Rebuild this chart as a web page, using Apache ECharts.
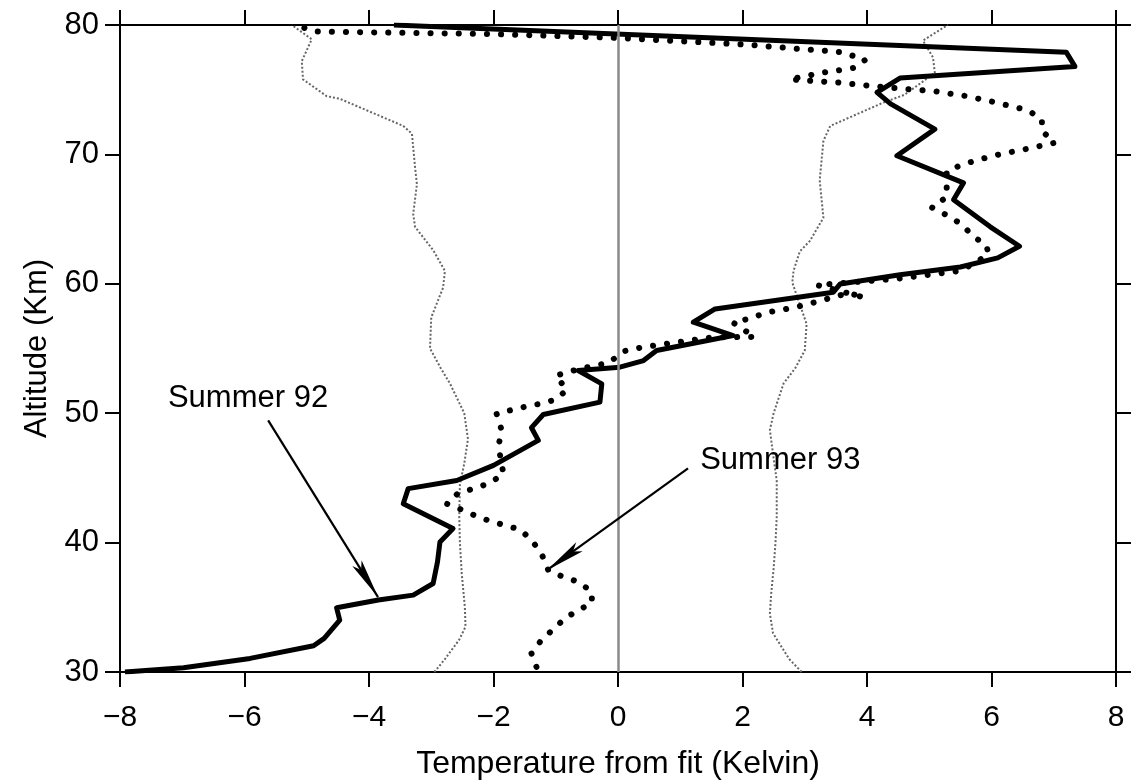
<!DOCTYPE html>
<html>
<head>
<meta charset="utf-8">
<script src="https://cdn.jsdelivr.net/npm/echarts@6/dist/echarts.min.js"></script>
<style>
  html, body { margin: 0; padding: 0; background: #fff; }
  #chart { width: 1147px; height: 782px; }
</style>
</head>
<body>
<div id="chart"></div>
<script>
// Temperature residual profiles (Kelvin) against altitude (km)
const xTickValues = [-8, -6, -4, -2, 0, 2, 4, 6, 8];
const yTickValues = [30, 40, 50, 60, 70, 80];

// Summer 1992 profile
const summer92Temp = [-7.92, -6.98, -5.91, -4.89, -4.72, -4.47, -4.52, -3.85, -3.29, -2.97, -2.9, -2.86, -2.65, -3.45, -3.37,
  -2.59, -2.0, -1.28, -1.39, -1.2, -0.29, -0.26, -0.64, 0.03, 0.41, 0.62, 1.85, 1.21, 1.56, 3.46, 3.57,
  4.53, 5.5, 6.1, 6.45, 5.98, 5.39, 5.55, 4.48, 5.09, 4.38, 4.16, 4.53, 7.34, 7.2, -3.6];
const summer92Alt = [30.0, 30.33, 31.05, 32.03, 32.6, 34.0, 34.96, 35.56, 35.94, 36.84, 38.5, 40.05, 41.09, 43.0, 44.17,
  44.8, 45.97, 47.9, 48.88, 49.9, 50.86, 52.27, 53.3, 53.56, 54.07, 54.85, 56.0, 57.03, 58.06, 59.35, 59.99,
  60.7, 61.3, 62.0, 62.9, 64.4, 66.5, 67.8, 69.9, 71.95, 73.9, 74.8, 75.9, 76.8, 77.9, 80.0];

// Summer 1993 profile
const summer93Temp = [-1.31, -1.39, -1.23, -1.04, -0.85, -0.64, -0.42, -0.42, -0.64, -0.88, -1.12, -1.23, -1.39, -1.57,
  -1.82, -2.06, -2.3, -2.54, -2.75, -2.57, -2.3, -2.06, -1.84, -1.92, -1.87, -1.95, -1.52, -1.25, -1.01, -0.82,
  -1.0, -0.64, -0.15, 0.1, 0.4, 0.9, 1.5, 2.2, 2.0, 1.85, 2.1, 2.4, 2.7, 2.95, 3.45, 3.7, 3.95, 3.2,
  4.5, 5.5, 5.78, 5.95, 5.92, 5.7, 5.52, 5.28, 5.04, 5.28, 5.28, 5.55, 6.03, 6.54, 7.02, 6.81, 6.81, 6.59,
  6.08, 5.6, 5.06, 4.5, 4.05, 3.54, 2.76, 3.27, 3.81, 3.97, 3.6, 2.0, 0.0, -2.0, -3.5, -4.9, -5.15];
const summer93Alt = [30.4, 31.44, 32.47, 33.3, 34.15, 34.78, 35.3, 36.2, 36.97, 37.35, 37.87, 39.16, 40.2, 41.0,
  41.34, 41.67, 42.1, 42.6, 43.0, 43.8, 44.2, 44.6, 45.3, 47.44, 48.7, 49.96, 50.47, 50.73, 51.04, 51.8,
  52.9, 53.4, 53.9, 54.8, 55.1, 55.45, 55.85, 55.9, 56.5, 57.0, 57.3, 57.8, 58.05, 58.3, 58.95, 59.3, 58.95, 59.9,
  60.4, 61.0, 61.75, 62.3, 62.95, 63.7, 64.6, 65.3, 65.9, 66.7, 68.7, 69.25, 69.9, 70.4, 70.9, 71.8, 72.7, 73.4,
  74.0, 74.5, 74.9, 75.1, 75.3, 75.55, 75.8, 76.3, 76.7, 77.3, 77.9, 78.5, 79.0, 79.3, 79.4, 79.5, 80.0];

// Variability envelope (lower and upper bounds)
const lowerTemp = [-2.95, -2.78, -2.55, -2.45, -2.46, -2.51, -2.54, -2.55, -2.54, -2.47, -2.41, -2.47, -2.7, -2.85,
  -3.02, -3.0, -2.81, -2.78, -2.97, -3.26, -3.29, -3.23, -3.26, -3.31, -3.45, -4.47, -4.68, -5.06, -5.08, -4.92, -5.24];
const lowerAlt = [30, 31, 32.5, 33.5, 35, 37.6, 40, 42, 44.5, 46.1, 48, 50, 52.3, 53.5,
  55, 57.4, 59.7, 61, 62.6, 64.4, 65.4, 67.7, 69, 71.6, 72.2, 74.3, 74.5, 75.8, 77.2, 78.9, 80];
const upperTemp = [2.95, 2.75, 2.49, 2.44, 2.46, 2.5, 2.53, 2.55, 2.55, 2.5, 2.44, 2.5, 2.66, 2.85,
  3.0, 3.03, 2.9, 2.8, 2.82, 2.92, 3.08, 3.3, 3.24, 3.3, 3.41, 4.26, 4.6, 5.09, 5.06, 4.9, 5.23, 5.3];
const upperAlt = [30, 31, 33, 34.5, 36, 38, 40, 42, 44.8, 46.5, 48.7, 50, 52.3, 53.5,
  54.85, 56.9, 58.7, 60.1, 61, 62.5, 63.3, 65.1, 68, 71.05, 72.2, 74, 74.6, 76.3, 77.5, 78.8, 79.8, 80];

// Annotation labels and their arrows: text anchor, arrow start, arrow tip
const labelNames = ['Summer 92', 'Summer 93'];
const labelPos = [[-7.23, 51.14], [1.32, 46.36]];
const arrowStart = [[-5.62, 49.44], [1.125, 45.74]];
const arrowEnd = [[-3.855, 35.79], [-1.14, 37.87]];

const zip = (xs, ys) => xs.map((x, i) => [x, ys[i]]);
const minus = v => (v < 0 ? '\u2212' + Math.abs(v) : String(v));
const FONT = '"Liberation Sans", Arial, sans-serif';

const axisLine = { show: true, onZero: false, lineStyle: { color: '#000', width: 2 } };
const axisTick = { show: true, inside: false, length: 15, lineStyle: { color: '#000', width: 2 } };

// Slim, notched arrowhead pointing up (rotated along the line by markLine);
// shifted back by half its length so the tip sits on the end point
const DART = 'path://M0,0 L1,10 L0,8 L-1,10 Z';
const DART_SIZE = [11, 40];

const chart = echarts.init(document.getElementById('chart'), null, { renderer: 'canvas' });
chart.setOption({
  animation: false,
  backgroundColor: '#fff',
  grid: { left: 120, right: 31, top: 25, bottom: 110, containLabel: false, outerBoundsMode: 'none' },
  xAxis: [
    {
      type: 'value', position: 'bottom', min: xTickValues[0], max: xTickValues[xTickValues.length - 1], interval: 2,
      axisLine, axisTick, splitLine: { show: false },
      axisLabel: { color: '#000', fontSize: 30, fontFamily: FONT, margin: 31, formatter: minus },
      name: 'Temperature from fit (Kelvin)', nameLocation: 'middle', nameGap: 76,
      nameTextStyle: { color: '#000', fontSize: 32, fontFamily: FONT }
    },
    {
      type: 'value', position: 'top', min: xTickValues[0], max: xTickValues[xTickValues.length - 1], interval: 2,
      axisLine, axisTick, splitLine: { show: false }, axisLabel: { show: false }
    }
  ],
  yAxis: [
    {
      type: 'value', position: 'left', min: yTickValues[0], max: yTickValues[yTickValues.length - 1], interval: 10,
      axisLine, axisTick, splitLine: { show: false },
      axisLabel: { color: '#000', fontSize: 31, fontFamily: FONT, margin: 21 },
      name: 'Altitude (Km)', nameLocation: 'middle', nameGap: 67,
      nameTextStyle: { color: '#000', fontSize: 31, fontFamily: FONT }
    },
    {
      type: 'value', position: 'right', min: yTickValues[0], max: yTickValues[yTickValues.length - 1], interval: 10,
      axisLine, axisTick, splitLine: { show: false }, axisLabel: { show: false }
    }
  ],
  series: [
    {
      name: 'Lower bound', type: 'line', data: zip(lowerTemp, lowerAlt), showSymbol: false, z: 2,
      lineStyle: { color: '#666', width: 2, type: [2, 2] },
      markLine: {
        silent: true, symbol: 'none', label: { show: false },
        lineStyle: { color: '#8a8a8a', width: 2.5, type: 'solid' },
        data: [{ xAxis: 0 }]
      }
    },
    {
      name: 'Upper bound', type: 'line', data: zip(upperTemp, upperAlt), showSymbol: false, z: 2,
      lineStyle: { color: '#666', width: 2, type: [2, 2] }
    },
    {
      name: 'Summer 93', type: 'line', data: zip(summer93Temp, summer93Alt), showSymbol: false, z: 3,
      lineStyle: { color: '#000', width: 6, type: [0.1, 14], cap: 'round' }
    },
    {
      name: 'Summer 92', type: 'line', data: zip(summer92Temp, summer92Alt), showSymbol: false, z: 4,
      lineStyle: { color: '#000', width: 5, join: 'round' },
      markLine: {
        silent: true, symbol: ['none', DART], symbolKeepAspect: false, label: { show: false },
        lineStyle: { color: '#000', width: 2.2, type: 'solid' },
        itemStyle: { color: '#000' },
        data: arrowStart.map((s, i) => [
          { coord: s, symbol: 'none' },
          { coord: arrowEnd[i], symbol: DART, symbolSize: DART_SIZE, symbolOffset: [0, DART_SIZE[1] / 2] }
        ])
      }
    },
    {
      name: 'Labels', type: 'scatter', symbolSize: 0, z: 5,
      itemStyle: { opacity: 1 },
      data: labelPos.map((p, i) => ({ value: p, name: labelNames[i] })),
      label: {
        show: true, position: 'right', distance: 0, formatter: '{b}',
        color: '#000', opacity: 1, textBorderWidth: 0, fontSize: 31, fontFamily: FONT
      }
    }
  ]
});
</script>
</body>
</html>
